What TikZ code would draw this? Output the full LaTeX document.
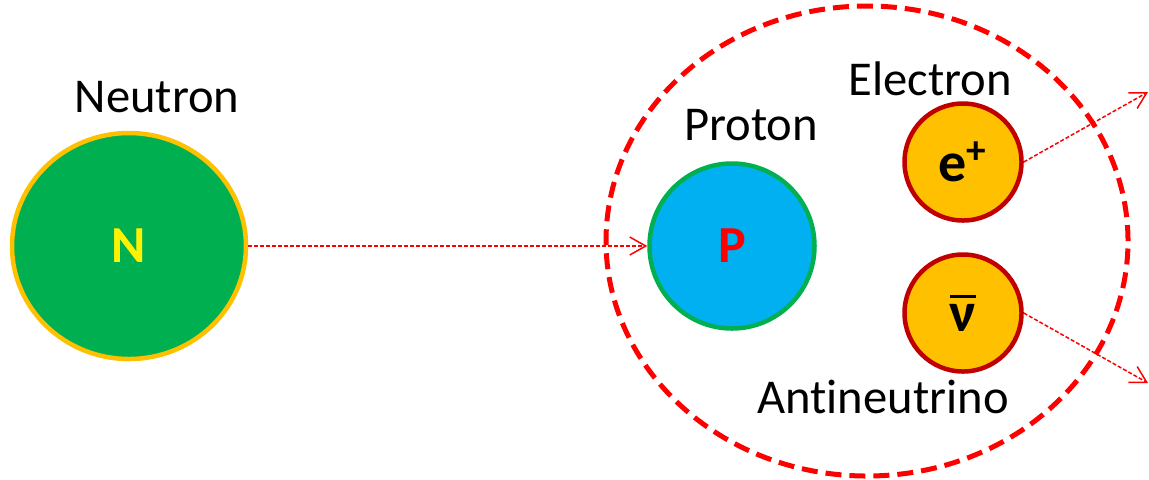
\documentclass[tikz,border=0pt]{standalone}
\usepackage{fontspec}
\setmainfont{Carlito}[Ligatures={NoCommon}]
\usetikzlibrary{shapes.geometric,arrows.meta}
\definecolor{ngreen}{HTML}{00B050}
\definecolor{norange}{HTML}{FFC000}
\definecolor{pblue}{HTML}{00B0F0}
\definecolor{darkred}{HTML}{C00000}
\newcommand{\barsym}[1]{\setbox0=\hbox{#1}\rlap{\raisebox{\dimexpr\ht0+3pt\relax}{\rule{\wd0}{1.5pt}}}\box0}

\begin{document}
\begin{tikzpicture}[
  x=0.5pt, y=-0.5pt,
  particle/.style={circle, line width=2.25pt, inner sep=0pt, font=\fontsize{26}{30}\selectfont\bfseries},
  lepton/.style={particle, draw=darkred, fill=norange, minimum size=58.5pt, font=\fontsize{28}{32}\selectfont\bfseries},
  partname/.style={anchor=base, font=\fontsize{24.3}{29}\selectfont},
  arrow/.style={-{Straight Barb[length=8pt,width=9pt]}, red, line width=0.75pt, dash pattern=on 2pt off 1pt}
]
\useasboundingbox (0,0) rectangle (1149,479);

\node[ellipse, draw=red, line width=2.5pt, dash pattern=on 8pt off 4pt, minimum width=261pt, minimum height=235pt, inner sep=0pt] (decay) at (867,241) {};

\node[particle, ellipse, draw=norange, fill=ngreen, text=yellow, minimum width=117pt, minimum height=113pt] (N) at (129,246) {N};
\node[particle, draw=ngreen, fill=pblue, text=red, minimum size=82.5pt] (P) at (732,246) {P};
\node[lepton] (e) at (963,162) {e\textsuperscript{+}};
\node[lepton] (nu) at (963,313) {\barsym{ν}};

\node[partname] (nname) at (157,112) {Neutron};
\node[partname] (pname) at (751,140) {Proton};
\node[partname] (ename) at (930,95) {Electron};
\node[partname] (nuname) at (883,413) {Antineutrino};

\coordinate (etip) at (1148,92);
\coordinate (nutip) at (1148,383);

\draw[arrow] (N.east) -- (P.west);
\draw[arrow] (e.east) -- (etip);
\draw[arrow] (nu.east) -- (nutip);
\end{tikzpicture}
\end{document}
